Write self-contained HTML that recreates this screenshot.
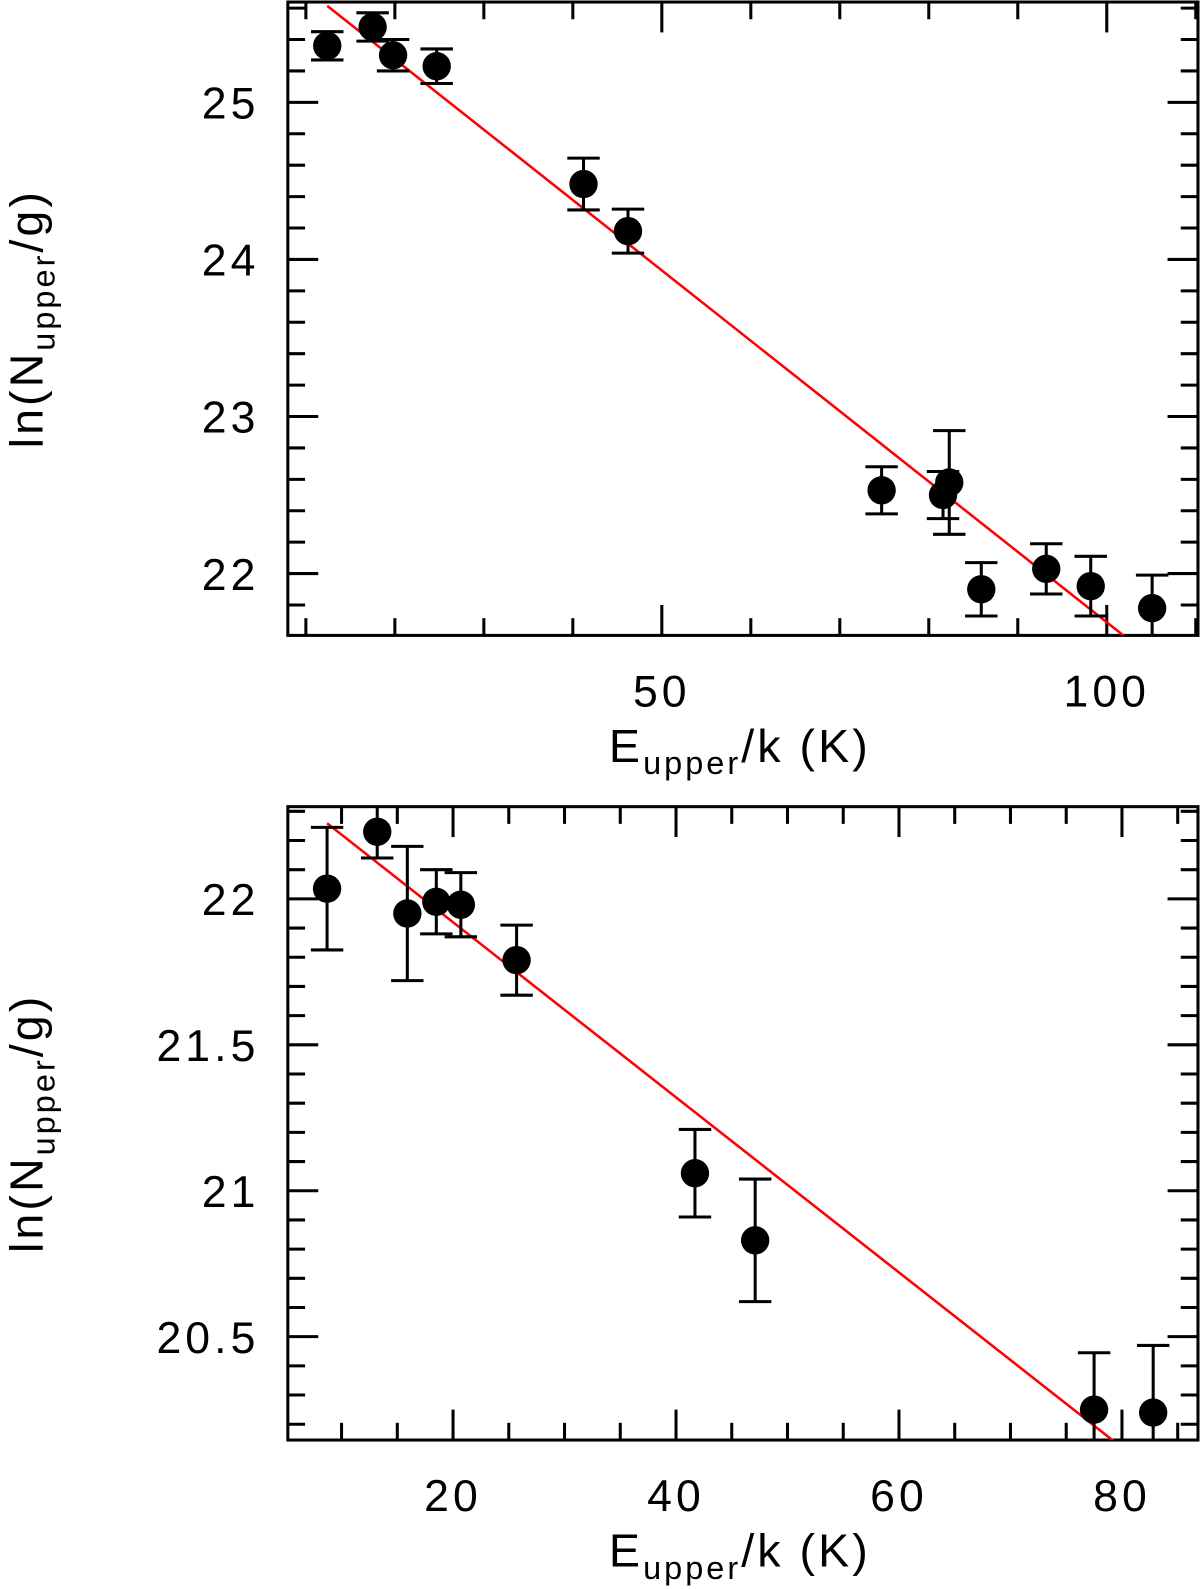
<!DOCTYPE html>
<html><head><meta charset="utf-8"><style>
html,body{margin:0;padding:0;background:#fff;}
svg{display:block;}
text{font-family:"Liberation Sans",sans-serif;fill:#000;}
</style></head><body>
<svg id="fig" width="1200" height="1589" viewBox="0 0 1184 1568" preserveAspectRatio="none" xmlns="http://www.w3.org/2000/svg"></svg>
<script>
// Top panel data
const topX = [12.4, 17.5, 19.8, 24.7, 41.2, 46.2, 74.7, 81.6, 82.3, 85.9, 93.2, 98.2, 105.1];
const topY = [25.36, 25.48, 25.30, 25.23, 24.48, 24.18, 22.53, 22.50, 22.58, 21.90, 22.03, 21.92, 21.78];
const topErr = [0.09, 0.09, 0.10, 0.11, 0.165, 0.14, 0.15, 0.15, 0.33, 0.17, 0.16, 0.19, 0.21];
const topFit = [26.17, -0.0448];
const topFitRange = [12.4, 110];
const topXTicks = [50, 100];
const topYTicks = [22, 23, 24, 25];
// Bottom panel data
const botX = [8.7, 13.2, 15.9, 18.5, 20.7, 25.7, 41.7, 47.1, 77.5, 82.8];
const botY = [22.035, 22.23, 21.95, 21.99, 21.98, 21.79, 21.06, 20.83, 20.25, 20.24];
const botErr = [0.21, 0.09, 0.23, 0.11, 0.11, 0.12, 0.15, 0.21, 0.195, 0.23];
const botFit = [22.52, -0.030];
const botFitRange = [8.7, 90];
const botXTicks = [20, 40, 60, 80];
const botYTicks = [20.5, 21, 21.5, 22];

const NS = "http://www.w3.org/2000/svg";
const svg = document.getElementById('fig');
function el(tag, attrs, parent){const e=document.createElementNS(NS,tag);for(const k in attrs)e.setAttribute(k,attrs[k]);(parent||svg).appendChild(e);return e;}

function panel(cfg){
  const g = el('g',{});
  
  
  const {x0,x1,y0,y1,xmin,xmax,ymin,ymax} = cfg;
  const sx = v => x0 + (v-xmin)/(xmax-xmin)*(x1-x0);
  const sy = v => y1 - (v-ymin)/(ymax-ymin)*(y1-y0);
  const clip = el('clipPath',{id:cfg.name+'-clip'},g);
  el('rect',{x:x0,y:y0,width:x1-x0,height:y1-y0},clip);
  for(let v=Math.ceil(xmin/cfg.xminor)*cfg.xminor; v<=xmax; v+=cfg.xminor){
    const major = Math.abs(v/cfg.xmajor - Math.round(v/cfg.xmajor))<1e-6;
    const L = major?30:17, X=sx(v);
    el('line',{x1:X,y1:y1,x2:X,y2:y1-L,stroke:'#000','stroke-width':3},g);
    el('line',{x1:X,y1:y0,x2:X,y2:y0+L,stroke:'#000','stroke-width':3},g);
  }
  for(let v=Math.ceil(ymin/cfg.yminor-1e-6)*cfg.yminor; v<=ymax; v+=cfg.yminor){
    const major = Math.abs(v/cfg.ymajor - Math.round(v/cfg.ymajor))<1e-6;
    const L = major?30:17, Y=sy(v);
    el('line',{x1:x0,y1:Y,x2:x0+L,y2:Y,stroke:'#000','stroke-width':3},g);
    el('line',{x1:x1,y1:Y,x2:x1-L,y2:Y,stroke:'#000','stroke-width':3},g);
  }
  el('rect',{x:x0,y:y0,width:x1-x0,height:y1-y0,fill:'none',stroke:'#000','stroke-width':3},g);
  cfg.xticks.forEach(v=>{
    const t=el('text',{x:sx(v),y:y1+70,'font-size':44,'letter-spacing':4,'text-anchor':'middle'},g);
    t.textContent=String(v);
    
    
  });
  cfg.yticks.forEach(v=>{
    const t=el('text',{x:x0-28,y:sy(v)+16,'font-size':44,'letter-spacing':4,'text-anchor':'end'},g);
    t.textContent=String(v);
    
    
  });
  const xt=el('text',{x:730,y:y1+125,'font-size':46,'letter-spacing':3,'text-anchor':'middle'},g);
  xt.innerHTML='E<tspan font-size="32" dy="12">upper</tspan><tspan dy="-12">/k  (K)</tspan>';
  
  
  const cy=(y0+y1)/2;
  const yt=el('text',{x:0,y:0,'font-size':46,'letter-spacing':3,'text-anchor':'middle',transform:`translate(42,${cy}) rotate(-90)`},g);
  yt.innerHTML='ln(N<tspan font-size="32" dy="12">upper</tspan><tspan dy="-12">/g)</tspan>';
  
  
  const dg=el('g',{'clip-path':`url(#${cfg.name}-clip)`},g);
  const fa=cfg.fitRange[0], fb=cfg.fitRange[1];
  const fit=el('line',{x1:sx(fa),y1:sy(cfg.fit[0]+cfg.fit[1]*fa),x2:sx(fb),y2:sy(cfg.fit[0]+cfg.fit[1]*fb),stroke:'#ff0000','stroke-width':2.5},dg);
  
  
  cfg.xs.forEach((xv,i)=>{
    const X=sx(xv), Y=sy(cfg.ys[i]), Yt=sy(cfg.ys[i]+cfg.err[i]), Yb=sy(cfg.ys[i]-cfg.err[i]);
    const pg=el('g',{},dg);
    
    
    el('line',{x1:X,y1:Yt,x2:X,y2:Yb,stroke:'#000','stroke-width':3},pg);
    el('line',{x1:X-16,y1:Yt,x2:X+16,y2:Yt,stroke:'#000','stroke-width':3},pg);
    el('line',{x1:X-16,y1:Yb,x2:X+16,y2:Yb,stroke:'#000','stroke-width':3},pg);
    el('circle',{cx:X,cy:Y,r:14,fill:'#000'},pg);
  });
}
panel({name:'top-panel',x0:284,x1:1182,y0:2,y1:627,
  xmin:50-(653-284)/8.78,xmax:50+(1182-653)/8.78,ymin:22-(627-566)/155,ymax:25+(101-2)/155,
  xminor:10,xmajor:50,yminor:0.2,ymajor:1,xticks:topXTicks,yticks:topYTicks,
  xs:topX,ys:topY,err:topErr,fit:topFit,fitRange:topFitRange});
panel({name:'bottom-panel',x0:284,x1:1182,y0:796,y1:1421,
  xmin:20-(447-284)/11,xmax:80+(1182-1107)/11,ymin:20.5-(1421-1319)/288,ymax:22+(887-796)/288,
  xminor:5,xmajor:20,yminor:0.1,ymajor:0.5,xticks:botXTicks,yticks:botYTicks,
  xs:botX,ys:botY,err:botErr,fit:botFit,fitRange:botFitRange});
</script>
</body></html>
